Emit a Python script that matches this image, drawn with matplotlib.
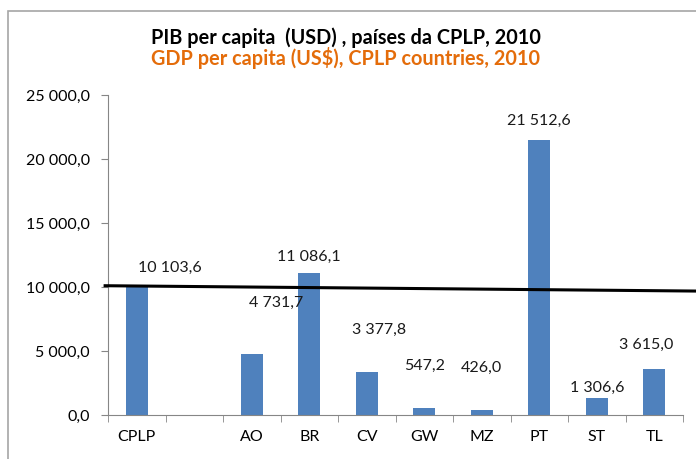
import numpy as np
import matplotlib.pyplot as plt
from matplotlib.patches import Rectangle

# data
categories = ["CPLP", "", "AO", "BR", "CV", "GW", "MZ", "PT", "ST", "TL"]
gdp_pc = [10103.6, np.nan, 4731.7, 11086.1, 3377.8, 547.2, 426.0, 21512.6, 1306.6, 3615.0]
# hand-drawn reference line (approx. CPLP level)
ref_x = [-0.55, 9.8]
ref_y = [10100, 9680]

title_pt = "PIB per capita  (USD) , países da CPLP, 2010"
title_en = "GDP per capita (US$), CPLP countries, 2010"


def fmt(v):
    s = "{:,.1f}".format(v)
    return s.replace(",", " ").replace(".", ",")


plt.rcParams['font.family'] = ['Lato', 'DejaVu Sans']

fig = plt.figure(figsize=(6.96, 4.59), dpi=100)
ax = fig.add_axes([108 / 696, 1 - 415 / 459, (683 - 108) / 696, (415 - 95) / 459])

x = np.arange(len(categories))
ax.bar(x, gdp_pc, width=0.38, color="#4F81BD", zorder=2)

# label offsets in pixels (dx, dy) as placed in the original
offsets = [(33, 18), (0, 0), (24, 52), (0, 16), (12, 42), (0, 42), (0, 42), (0, 19), (1, 10), (-8, 24)]
for xi, v, (dx, dy) in zip(x, gdp_pc, offsets):
    if np.isnan(v):
        continue
    ax.annotate(fmt(v), (xi, v), xytext=(dx, dy), textcoords="offset pixels",
                ha="center", va="center", fontsize=11.5, color="#1a1a1a")

ax.plot(ref_x, ref_y, color="black", lw=2.2, clip_on=False, zorder=3)

ax.set_xlim(-0.5, len(categories) - 0.5)
ax.set_ylim(0, 25000)
ax.set_yticks(np.arange(0, 25001, 5000))
ax.set_yticklabels([fmt(t) for t in np.arange(0, 25001, 5000)])
ax.set_xticks(x)
ax.set_xticklabels(categories)
ax.set_xticks(np.arange(-0.5, len(categories)), minor=True)
ax.tick_params(axis="x", which="major", length=0, pad=11, labelsize=11.5)
ax.tick_params(axis="x", which="minor", length=5, color="#868686", direction="out")
ax.tick_params(axis="y", length=5, color="#868686", labelsize=11.5, pad=8)

for side in ["top", "right"]:
    ax.spines[side].set_visible(False)
ax.spines["left"].set_color("#868686")
ax.spines["bottom"].set_color("#868686")

fig.text(0.5 - 0.003, 1 - 38 / 459, title_pt, ha="center", va="center",
         fontsize=14.3, fontweight="bold", color="black")
fig.text(0.5 - 0.003, 1 - 58 / 459, title_en, ha="center", va="center",
         fontsize=14.3, fontweight="bold", color="#E46C0A")

# outer chart frame
fig.patches.append(Rectangle((8 / 696, -0.1), 1.2, 1 - 11 / 459 + 0.1,
                             transform=fig.transFigure, fill=False,
                             edgecolor="#A6A6A6", lw=1.2))

plt.savefig("out.png", dpi=100)
